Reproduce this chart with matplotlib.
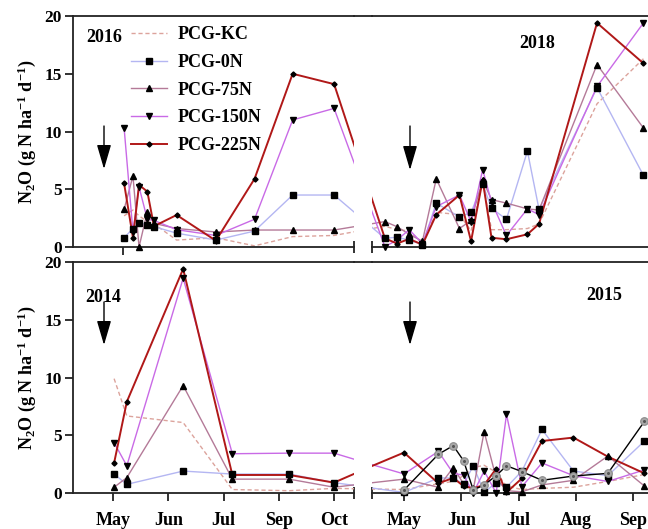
import numpy as np
import matplotlib
matplotlib.use("Agg")
import matplotlib.pyplot as plt
from matplotlib.lines import Line2D

plt.rcParams['font.family'] = ['Liberation Serif', 'DejaVu Serif']
plt.rcParams['font.weight'] = 'bold'
plt.rcParams['mathtext.fontset'] = 'custom'
plt.rcParams['mathtext.rm'] = 'Liberation Serif:bold'
plt.rcParams['mathtext.it'] = 'Liberation Serif:bold'
plt.rcParams['mathtext.bf'] = 'Liberation Serif:bold'

# ---------------- data ----------------
series_names = ["PCG-KC", "PCG-0N", "PCG-75N", "PCG-150N", "PCG-225N"]

# top row: 2016 (left window) + 2018 (right window); x in month-tick units
x_2016 = [0.02, 0.18, 0.29, 0.44, 0.56, 0.97, 1.68, 2.38, 3.07, 3.82]
x_2018 = [4.74, 4.96, 5.18, 5.42, 5.67, 6.09, 6.30, 6.51, 6.67, 6.94, 7.32, 7.53, 8.58, 9.42]

kc_2016 = [2.7, 3.2, 2.7, 2.2, 2.0, 0.6, 0.8, 0.1, 0.9, 1.0]
n0_2016 = [0.8, 1.6, 2.1, 1.9, 1.76, 1.2, 0.6, 1.38, 4.5, 4.5]
n75_2016 = [3.26, 6.15, 0.0, 3.06, 2.05, 1.6, 1.3, 1.47, 1.47, 1.47]
n150_2016 = [10.3, 1.3, 5.2, 2.4, 2.3, 1.5, 1.0, 2.4, 11.0, 12.0]
n225_2016 = [5.5, 0.8, 5.37, 4.8, 1.8, 2.77, 0.55, 5.9, 15.0, 14.1]

kc_2018 = [1.8, 1.5, 1.4, 0.3, 3.0, 2.8, 1.4, 5.6, 1.5, 1.5, 1.6, 2.0, 12.4, 16.3]
n0_2018 = [0.75, 0.85, 0.6, 0.2, 3.8, 2.6, 3.0, 5.45, 3.35, 2.4, 8.3, 3.26, 13.8, 6.2]
n75_2018 = [2.2, 1.76, 1.1, 0.5, 5.9, 1.6, 2.3, 5.8, 4.1, 3.8, 3.3, 3.2, 15.8, 10.3]
n150_2018 = [0.03, 0.6, 1.5, 0.3, 3.5, 4.5, 2.2, 6.7, 3.9, 1.0, 3.3, 2.8, 13.9, 19.4]
n225_2018 = [0.75, 0.3, 0.7, 0.2, 2.8, 4.5, 0.5, 5.8, 0.8, 0.67, 1.1, 2.0, 19.4, 15.9]

# bottom row: 2014 (left window) + 2015 (right window)
x_2014 = [0.02, 0.25, 1.27, 2.16, 3.19, 4.0]
x_2015 = [5.25, 5.85, 6.11, 6.29, 6.46, 6.65, 6.86, 7.04, 7.31, 7.66, 8.21, 8.81, 9.45]

kc_2014 = [9.9, 6.67, 6.1, 0.3, 0.2, 0.4]
n0_2014 = [1.64, 0.75, 1.9, 1.64, 1.64, 0.9]
n75_2014 = [0.5, 1.33, 9.3, 1.2, 1.2, 0.5]
n150_2014 = [4.36, 2.36, 18.6, 3.4, 3.45, 3.45]
n225_2014 = [2.6, 7.9, 19.4, 1.56, 1.56, 0.9]

kc_2015 = [0.3, 0.8, 1.0, 1.5, 2.2, 2.4, 1.8, 0.6, 0.3, 0.4, 0.5, 1.0, 1.6]
n0_2015 = [0.05, 1.3, 1.3, 0.75, 2.36, 0.05, 0.9, 0.5, 1.9, 5.5, 1.9, 1.5, 4.5]
n75_2015 = [1.2, 0.5, 2.2, 0.8, 0.3, 5.3, 1.3, 0.2, 0.1, 0.7, 1.1, 3.2, 0.6]
n150_2015 = [1.65, 3.6, 1.7, 1.55, 0.0, 1.9, 0.0, 6.8, 0.55, 2.6, 1.5, 1.0, 2.0]
n225_2015 = [3.5, 0.84, 1.3, 0.6, 0.4, 0.7, 2.1, 0.05, 1.27, 4.5, 4.8, 3.15, 1.7]
extra_2015 = [0.26, 3.35, 4.1, 2.8, 0.26, 0.7, 1.5, 2.36, 1.85, 1.1, 1.47, 1.7, 6.2]

bottom_left_ticks = [0, 1, 2, 3, 4]
bottom_left_labels = ["May", "Jun", "Jul", "Sep", "Oct"]
bottom_right_ticks = [5.25, 6.25, 7.25, 8.25, 9.25]
bottom_right_labels = ["May", "Jun", "Jul", "Aug", "Sep"]
top_left_ticks = [0]

yticks = [0, 5, 10, 15, 20]
year_labels = ["2016", "2018", "2014", "2015"]
ylabel = r"N$_2$O (g N ha$^{-1}$ d$^{-1}$)"

# ---------------- styles ----------------
styles = {
    "PCG-KC":   dict(color="#dca39c", lw=1.0, ls=(0, (3, 2)), marker=None, ms=0),
    "PCG-0N":   dict(color="#b4b6f2", lw=1.0, ls="-", marker="s", ms=4.2),
    "PCG-75N":  dict(color="#b47a98", lw=1.0, ls="-", marker="^", ms=4.0),
    "PCG-150N": dict(color="#c96ae6", lw=1.0, ls="-", marker="v", ms=4.0),
    "PCG-225N": dict(color="#b01818", lw=1.4, ls="-", marker="D", ms=2.6),
}

W, H = 648, 529
fig = plt.figure(figsize=(W / 100, H / 100), dpi=100)

def fr(x0, y0, x1, y1):
    return [x0 / W, 1 - y1 / H, (x1 - x0) / W, (y1 - y0) / H]

ax_tl = fig.add_axes(fr(73, 16, 354, 247))
ax_tr = fig.add_axes(fr(372, 16, 652, 247))
ax_bl = fig.add_axes(fr(73, 262, 354, 493))
ax_br = fig.add_axes(fr(372, 262, 652, 493))

top_x = x_2016 + x_2018
top_data = {
    "PCG-KC": kc_2016 + kc_2018,
    "PCG-0N": n0_2016 + n0_2018,
    "PCG-75N": n75_2016 + n75_2018,
    "PCG-150N": n150_2016 + n150_2018,
    "PCG-225N": n225_2016 + n225_2018,
}
bot_x = x_2014 + x_2015
bot_data = {
    "PCG-KC": kc_2014 + kc_2015,
    "PCG-0N": n0_2014 + n0_2015,
    "PCG-75N": n75_2014 + n75_2015,
    "PCG-150N": n150_2014 + n150_2015,
    "PCG-225N": n225_2014 + n225_2015,
}

def draw(ax, xs, data, xlim, extra=None):
    xs = np.asarray(xs)
    for name in series_names:
        st = styles[name]
        ys = np.asarray(data[name])
        ax.plot(xs, ys, color=st["color"], lw=st["lw"], ls=st["ls"], zorder=2)
        if st["marker"]:
            m = (xs >= xlim[0]) & (xs <= xlim[1])
            ax.plot(xs[m], ys[m], ls="none", marker=st["marker"], ms=st["ms"],
                    color="black", mec="black", clip_on=False, zorder=3)
    if extra is not None:
        ex, ey = np.asarray(extra[0]), np.asarray(extra[1])
        ax.plot(ex, ey, color="black", lw=1.0, zorder=2)
        m = (ex >= xlim[0]) & (ex <= xlim[1])
        ax.plot(ex[m], ey[m], ls="none", marker="o", ms=5.5, mfc="#a8a8a8",
                mec="#8c8c8c", mew=0.8, clip_on=False, zorder=3)
        ax.plot(ex[m], ey[m], ls="none", marker="o", ms=1.2, color="#555555",
                clip_on=False, zorder=4)
    ax.set_xlim(*xlim)
    ax.set_ylim(0, 20)

tl_lim = (-0.905, 4.18)
tr_lim = (4.507, 4.507 + 280 / 55.25)
bl_lim = (-0.724, 4.362)
br_lim = (4.691, 4.691 + 280 / 57.25)

draw(ax_tl, top_x, top_data, tl_lim)
draw(ax_tr, top_x, top_data, tr_lim)
draw(ax_bl, bot_x, bot_data, bl_lim)
draw(ax_br, bot_x, bot_data, br_lim, extra=(x_2015, extra_2015))

spine_lw = 1.3
for ax in (ax_tl, ax_tr, ax_bl, ax_br):
    ax.spines['right'].set_visible(False)
    for s in ('top', 'bottom', 'left'):
        ax.spines[s].set_linewidth(spine_lw)
        ax.spines[s].set_color('#222222')
    ax.tick_params(axis='both', width=spine_lw, color='#222222', length=6,
                   labelsize=12.5, direction='out')
for ax in (ax_tr, ax_br):
    ax.spines['left'].set_visible(False)
    ax.set_yticks([])

for ax in (ax_tl, ax_bl):
    ax.set_yticks(yticks)
    ax.set_yticklabels([str(v) for v in yticks], fontweight='bold')
    ax.tick_params(axis='y', pad=2)
    ax.set_ylabel(ylabel, fontsize=13, fontweight='bold', labelpad=5)

ax_tl.set_xticks(top_left_ticks)
ax_tl.set_xticklabels([])
ax_tr.set_xticks([])
ax_bl.set_xticks(bottom_left_ticks)
ax_bl.set_xticklabels(bottom_left_labels, fontweight='bold')
ax_br.set_xticks(bottom_right_ticks)
ax_br.set_xticklabels(bottom_right_labels, fontweight='bold')
for ax in (ax_bl, ax_br):
    ax.tick_params(axis='x', pad=8, labelsize=13)

# break caps (inout ticks at window ends)
for ax, pos in ((ax_tl, tl_lim[1]), (ax_bl, bl_lim[1]), (ax_tr, tr_lim[0]), (ax_br, br_lim[0])):
    ax.set_xticks([pos], minor=True)
    ax.tick_params(axis='x', which='minor', direction='inout', length=9,
                   width=spine_lw, color='#222222')

# continuous top border across the break
for ytop in (16, 262):
    fig.add_artist(Line2D([354 / W, 372 / W], [1 - ytop / H, 1 - ytop / H],
                          transform=fig.transFigure, color='#222222', lw=spine_lw))

# year labels
for (txt, x, y) in zip(year_labels, [104, 537, 103, 604], [37, 43, 297, 295]):
    fig.text(x / W, 1 - y / H, txt, ha='center', va='center', fontsize=13, fontweight='bold')

# arrows
for (x, y0, y1) in [(104, 126, 169), (410, 126, 170), (104, 302, 345), (410, 302, 345)]:
    fig.add_artist(matplotlib.patches.FancyArrowPatch(
        (x / W, 1 - y0 / H), (x / W, 1 - y1 / H), transform=fig.transFigure,
        arrowstyle='-|>,head_length=0.75,head_width=0.22', mutation_scale=20,
        color='black', lw=1.0, shrinkA=0, shrinkB=0))

# legend
handles = []
for name in series_names:
    st = styles[name]
    handles.append(Line2D([], [], color=st["color"], lw=st["lw"], ls=st["ls"],
                          marker=st["marker"], ms=st["ms"], mfc="black", mec="black"))
leg = ax_tl.legend(handles, series_names, loc='upper left', frameon=False,
                   bbox_to_anchor=(131 / W, 1 - 26 / H), bbox_transform=fig.transFigure,
                   prop=dict(family='Liberation Serif', weight='bold', size=13),
                   handlelength=2.0, handletextpad=0.6, labelspacing=0.6,
                   borderpad=0, borderaxespad=0)

fig.savefig("out.png", dpi=100)
